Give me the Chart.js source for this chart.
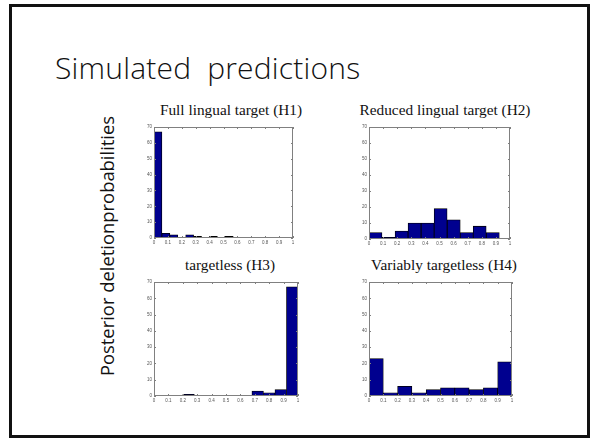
<!DOCTYPE html>
<html>
<head>
<meta charset="utf-8">
<script src="https://cdn.jsdelivr.net/npm/chart.js@4/dist/chart.umd.min.js"></script>
<style>
  html, body { margin: 0; padding: 0; background: #fff; overflow: hidden; }
  #slide { position: relative; width: 590px; height: 438px; overflow: hidden; background: #fff; }
  #frame { position: absolute; left: 9px; top: 4px; width: 575px; height: 428px; border: 3px solid #111; box-sizing: content-box; }
  #heading { position: absolute; left: 55px; top: 53px; font-family: "Open Sans", sans-serif; font-weight: 300; font-size: 30px; line-height: 30px; letter-spacing: 0.2px; color: #111; white-space: pre; }
  #ylabel { position: absolute; left: -43px; top: 236px; width: 300px; height: 20px; text-align: center; font-family: "Open Sans", sans-serif; font-size: 18.4px; line-height: 20px; color: #111; transform: rotate(-90deg); white-space: pre; }
  .ptitle { position: absolute; width: 220px; text-align: center; font-family: "Liberation Serif", "Times New Roman", serif; font-size: 15.3px; line-height: 14px; color: #111; white-space: pre; }
  canvas { position: absolute; }
</style>
</head>
<body>
<div id="slide">
  <div id="frame"></div>
  <div id="heading">Simulated  predictions</div>
  <div id="ylabel">Posterior deletionprobabilities</div>
  <div class="ptitle" id="t1" style="left:121px; top:103px;">Full lingual target (H1)</div>
  <div class="ptitle" id="t2" style="left:335px; top:103px;">Reduced lingual target (H2)</div>
  <div class="ptitle" id="t3" style="left:120px; top:258px;">targetless (H3)</div>
  <div class="ptitle" id="t4" style="left:334px; top:258px;">Variably targetless (H4)</div>
  <canvas id="c1"></canvas>
  <canvas id="c2"></canvas>
  <canvas id="c3"></canvas>
  <canvas id="c4"></canvas>
</div>
<script>
// Histogram bins (centres on the 0..1 probability scale) and token counts per hypothesis
const h1Centers = [0.0285, 0.0855, 0.1425, 0.1995, 0.2565, 0.3135, 0.3705, 0.4275, 0.4845, 0.5415];
const h1Counts  = [67, 3, 2, 0, 2, 1, 0, 1, 0, 1];

const h2Centers = [0.046, 0.139, 0.231, 0.323, 0.416, 0.508, 0.601, 0.693, 0.785, 0.878];
const h2Counts  = [4, 1, 5, 10, 10, 19, 12, 4, 8, 4];

const h3Centers = [0.24, 0.32, 0.40, 0.48, 0.56, 0.64, 0.72, 0.80, 0.88, 0.96];
const h3Counts  = [1, 0, 0, 0, 0, 0, 3, 2, 4, 67];

const h4Centers = [0.05, 0.15, 0.25, 0.35, 0.45, 0.55, 0.65, 0.75, 0.85, 0.95];
const h4Counts  = [23, 2, 6, 2, 4, 5, 5, 4, 5, 21];

// Axis ranges and tick steps
const xRange = [0, 1];
const xStep = 0.1;
const yRange = [0, 70];
const yStep = 10;

const BAR_FILL = '#00008f';
const BOX_GREY = '#808080';
const TICK_FONT = { family: 'Liberation Sans, Arial, sans-serif', size: 4.5 };

// Plot-area rectangles on the slide: [left, top, right, bottom]
const panels = [
  { id: 'c1', centers: h1Centers, counts: h1Counts, area: [154, 127, 293, 238] },
  { id: 'c2', centers: h2Centers, counts: h2Counts, area: [369, 127, 510, 239] },
  { id: 'c3', centers: h3Centers, counts: h3Counts, area: [154, 282, 298, 396] },
  { id: 'c4', centers: h4Centers, counts: h4Counts, area: [369, 282, 512, 396] },
];

const Y_AXIS_W = 20, X_AXIS_H = 12, PAD_T = 6, PAD_R = 6;

// Grey box around the axes with short inward tick marks on all four sides
const axesBox = {
  id: 'axesBox',
  afterDraw(chart) {
    const { ctx, chartArea: a, scales: { x, y } } = chart;
    ctx.save();
    ctx.strokeStyle = BOX_GREY;
    ctx.lineWidth = 1;
    ctx.strokeRect(a.left + 0.5, a.top + 0.5, a.right - a.left - 1, a.bottom - a.top - 1);
    const len = 2;
    ctx.beginPath();
    x.ticks.forEach((t, i) => {
      const px = Math.round(x.getPixelForTick(i)) + 0.5;
      ctx.moveTo(px, a.bottom); ctx.lineTo(px, a.bottom - len);
      ctx.moveTo(px, a.top); ctx.lineTo(px, a.top + len);
    });
    y.ticks.forEach((t, i) => {
      const py = Math.round(y.getPixelForTick(i)) + 0.5;
      ctx.moveTo(a.left, py); ctx.lineTo(a.left + len, py);
      ctx.moveTo(a.right, py); ctx.lineTo(a.right - len, py);
    });
    ctx.stroke();
    ctx.restore();
  }
};

panels.forEach(p => {
  const [l, t, r, b] = p.area;
  const cv = document.getElementById(p.id);
  const w = (r - l) + Y_AXIS_W + PAD_R;
  const h = (b - t) + PAD_T + X_AXIS_H;
  cv.width = w; cv.height = h;
  cv.style.left = (l - Y_AXIS_W) + 'px';
  cv.style.top = (t - PAD_T) + 'px';
  cv.style.width = w + 'px'; cv.style.height = h + 'px';

  new Chart(cv, {
    type: 'bar',
    data: {
      datasets: [{
        data: p.centers.map((c, i) => ({ x: c, y: p.counts[i] })),
        backgroundColor: BAR_FILL,
        borderColor: '#000',
        borderWidth: 0.8,
        barPercentage: 1,
        categoryPercentage: 1,
      }]
    },
    options: {
      responsive: false,
      devicePixelRatio: 1,
      animation: false,
      layout: { padding: { left: 0, top: PAD_T, right: PAD_R, bottom: 0 } },
      plugins: { legend: { display: false }, tooltip: { enabled: false }, title: { display: false } },
      scales: {
        x: {
          type: 'linear',
          min: xRange[0], max: xRange[1],
          offset: false,
          grid: { display: false, drawTicks: false },
          border: { display: false },
          ticks: {
            stepSize: xStep, autoSkip: false, maxRotation: 0, padding: 2,
            font: TICK_FONT, color: '#555',
            callback: v => String(+(+v).toFixed(1))
          },
          afterFit: s => { s.height = X_AXIS_H; }
        },
        y: {
          min: yRange[0], max: yRange[1],
          grid: { display: false, drawTicks: false },
          border: { display: false },
          ticks: { stepSize: yStep, padding: 2, font: TICK_FONT, color: '#555' },
          afterFit: s => { s.width = Y_AXIS_W; }
        }
      }
    },
    plugins: [axesBox]
  });
});
</script>
</body>
</html>
